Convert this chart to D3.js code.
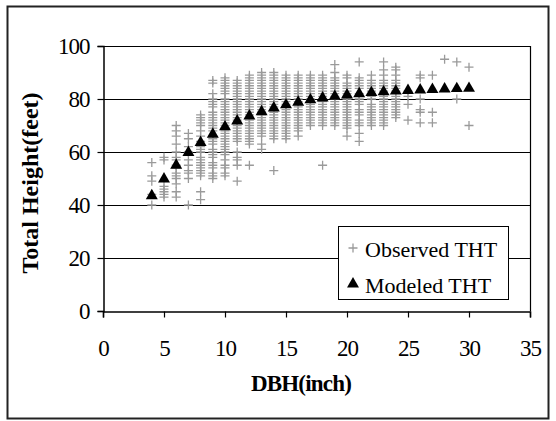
<!DOCTYPE html>
<html>
<head>
<meta charset="utf-8">
<script src="https://cdn.jsdelivr.net/npm/d3@7"></script>
<style>
  body { margin: 0; background: #fff; }
  text { font-family: "Liberation Serif", "Times New Roman", serif; fill: #000; }
</style>
</head>
<body>
<script>
// DBH classes (inch)
var dbhValues = [4, 5, 6, 7, 8, 9, 10, 11, 12, 13, 14, 15, 16, 17, 18, 19, 20, 21, 22, 23, 24, 25, 26, 27, 28, 29, 30];

// modeled total height for each DBH class
var modeledTHT = [43.5, 49.8, 55, 59.8, 63.6, 66.7, 69.5, 71.7, 73.6, 75.2, 76.6, 77.8, 78.8, 79.7, 80.4, 81, 81.5, 82, 82.4, 82.7, 83, 83.2, 83.4, 83.6, 83.8, 83.9, 84];

// observed total heights, one list per DBH class
var observedTHT = [
  [56, 51, 49, 44, 40],
  [58, 57, 47, 46, 45, 44, 43],
  [70, 68, 66, 63, 60, 58, 57, 55, 54, 52, 51, 50, 48, 45, 43],
  [67, 65, 62, 60, 57, 55, 53, 52, 50, 40],
  [74, 73, 72, 71, 70, 68, 66, 64, 62, 61, 60, 58, 57, 56, 55, 54, 53, 52, 51, 45, 42],
  [87, 86, 82, 80, 79, 78, 77, 75, 74, 73, 72, 71, 70, 69, 68, 66, 65, 64, 63, 61, 60, 59, 58, 56, 55, 54, 52, 51, 50],
  [88, 87, 86, 85, 84, 83, 82, 80, 79, 78, 77, 76, 75, 74, 73, 72, 71, 70, 69, 68, 67, 66, 65, 64, 63, 62, 61, 60, 59, 57, 55, 54, 52, 51],
  [87, 86, 85, 84, 83, 82, 81, 80, 79, 78, 77, 76, 75, 74, 73, 72, 71, 70, 69, 68, 67, 66, 65, 64, 60, 58, 57, 55, 49],
  [89, 88, 87, 86, 85, 84, 83, 82, 81, 80, 79, 78, 77, 76, 75, 74, 73, 72, 71, 70, 69, 68, 67, 66, 65, 64, 63, 55],
  [90, 89, 88, 87, 86, 85, 84, 83, 82, 81, 80, 79, 78, 77, 76, 75, 74, 73, 72, 71, 70, 69, 68, 67, 66, 63, 61],
  [90, 89, 88, 87, 86, 85, 84, 83, 82, 81, 80, 79, 78, 77, 76, 75, 74, 73, 72, 71, 70, 69, 68, 67, 66, 65, 53],
  [89, 88, 87, 86, 85, 84, 83, 82, 81, 80, 79, 78, 77, 76, 75, 74, 73, 72, 71, 70, 69, 68, 67, 66, 65],
  [89, 88, 87, 86, 85, 84, 83, 82, 81, 80, 79, 78, 77, 76, 75, 74, 73, 72, 71, 70, 69, 68, 66],
  [89, 88, 87, 86, 85, 84, 83, 82, 81, 80, 79, 78, 77, 76, 75, 74, 73, 72, 71, 70],
  [89, 88, 87, 86, 85, 84, 83, 82, 81, 80, 79, 78, 77, 76, 75, 74, 73, 72, 71, 70, 55],
  [93, 90, 88, 87, 86, 85, 84, 83, 82, 81, 80, 79, 78, 77, 76, 75, 74, 73, 72, 71, 70],
  [89, 88, 86, 85, 84, 83, 82, 81, 80, 79, 78, 77, 76, 75, 74, 73, 72, 71, 70, 69, 66],
  [94, 88, 87, 86, 85, 84, 82, 81, 80, 79, 78, 76, 75, 74, 72, 71, 70, 67, 64],
  [89, 87, 86, 85, 84, 83, 82, 81, 80, 78, 77, 76, 75, 74, 73, 72, 71, 70],
  [94, 91, 89, 87, 86, 85, 84, 83, 82, 81, 80, 79, 78, 77, 76, 75, 74, 73, 72, 71, 70],
  [92, 91, 89, 87, 86, 85, 84, 83, 81, 80, 79, 78, 77, 76, 75, 74, 73],
  [83, 81, 78, 72],
  [89, 88, 80, 76, 75, 71],
  [89, 75, 71],
  [95],
  [94, 80],
  [92, 70]
];

var xTicks = [0, 5, 10, 15, 20, 25, 30, 35];
var yTicks = [0, 20, 40, 60, 80, 100];

var width = 556, height = 421;

var svg = d3.select("body")
	.append("svg")
	.attr("width", width)
	.attr("height", height);

// outer chart frame
svg.append("rect")
	.attr("x", 7.5).attr("y", 6.5)
	.attr("width", 541).attr("height", 412)
	.attr("fill", "none")
	.attr("stroke", "#222")
	.attr("stroke-width", 2);

var x = d3.scaleLinear().domain([0, 35]).range([103, 530]);
var y = d3.scaleLinear().domain([0, 100]).range([311, 46]);

// gridlines
svg.append("g")
	.selectAll("line")
	.data(yTicks.filter(function(d) { return d > 0; }))
	.enter()
	.append("line")
	.attr("x1", x(0)).attr("x2", x(35))
	.attr("y1", function(d) { return Math.round(y(d)) + 0.5; })
	.attr("y2", function(d) { return Math.round(y(d)) + 0.5; })
	.attr("stroke", "#000")
	.attr("stroke-width", 1.2);

// right edge of plot area
svg.append("line")
	.attr("x1", x(35) + 0.5).attr("x2", x(35) + 0.5)
	.attr("y1", y(100)).attr("y2", y(0))
	.attr("stroke", "#000")
	.attr("stroke-width", 1.2);

// axes
var xAxis = svg.append("g")
	.attr("transform", "translate(0," + (Math.round(y(0)) + 0.5) + ")")
	.call(d3.axisBottom(x).tickValues(xTicks).tickSize(6).tickPadding(22).tickFormat(d3.format("d")));

var yAxis = svg.append("g")
	.attr("transform", "translate(" + (x(0) + 0.5) + ",0)")
	.call(d3.axisLeft(y).tickValues(yTicks).tickSize(6).tickPadding(8).tickFormat(d3.format("d")));

[xAxis, yAxis].forEach(function(a) {
	a.select(".domain").attr("stroke", "#000").attr("stroke-width", 1.5);
	a.selectAll(".tick line").attr("stroke", "#000").attr("stroke-width", 1.2);
	a.selectAll(".tick text")
		.style("font-family", "'Liberation Serif', serif")
		.style("font-size", "23px")
		.style("letter-spacing", "-1px")
		.attr("fill", "#000");
});

// observed points
var obsPoints = [];
dbhValues.forEach(function(d, i) {
	observedTHT[i].forEach(function(h) { obsPoints.push({dbh: d, tht: h}); });
});

var plus = "M-4.5,0H4.5M0,-4.5V4.5";

svg.append("g")
	.selectAll("path")
	.data(obsPoints)
	.enter()
	.append("path")
	.attr("d", plus)
	.attr("transform", function(d) { return "translate(" + x(d.dbh) + "," + y(d.tht) + ")"; })
	.attr("fill", "none")
	.attr("stroke", "#9a9a9a")
	.attr("stroke-width", 1.3);

// modeled points
var tri = d3.symbol().type(d3.symbolTriangle).size(62);

svg.append("g")
	.selectAll("path")
	.data(dbhValues)
	.enter()
	.append("path")
	.attr("d", tri)
	.attr("transform", function(d, i) { return "translate(" + x(d) + "," + y(modeledTHT[i]) + ")"; })
	.attr("fill", "#000");

// axis titles
svg.append("text")
	.attr("x", 301)
	.attr("y", 391)
	.attr("text-anchor", "middle")
	.style("font-size", "23px")
	.style("font-weight", "bold")
	.style("letter-spacing", "-0.8px")
	.text("DBH(inch)");

svg.append("text")
	.attr("transform", "translate(38,183) rotate(-90)")
	.attr("text-anchor", "middle")
	.style("font-size", "24px")
	.style("font-weight", "bold")
	.text("Total Height(feet)");

// legend
var legend = svg.append("g");

legend.append("rect")
	.attr("x", 338.5).attr("y", 226.5)
	.attr("width", 170).attr("height", 73)
	.attr("fill", "#fff")
	.attr("stroke", "#000");

legend.append("path")
	.attr("d", plus)
	.attr("transform", "translate(353,248)")
	.attr("stroke", "#9a9a9a")
	.attr("stroke-width", 1.3);

legend.append("path")
	.attr("d", tri)
	.attr("transform", "translate(353,284)")
	.attr("fill", "#000");

legend.append("text")
	.attr("x", 365).attr("y", 257)
	.style("font-size", "22px")
	.text("Observed THT");

legend.append("text")
	.attr("x", 365).attr("y", 293)
	.style("font-size", "22px")
	.text("Modeled THT");
</script>
</body>
</html>
